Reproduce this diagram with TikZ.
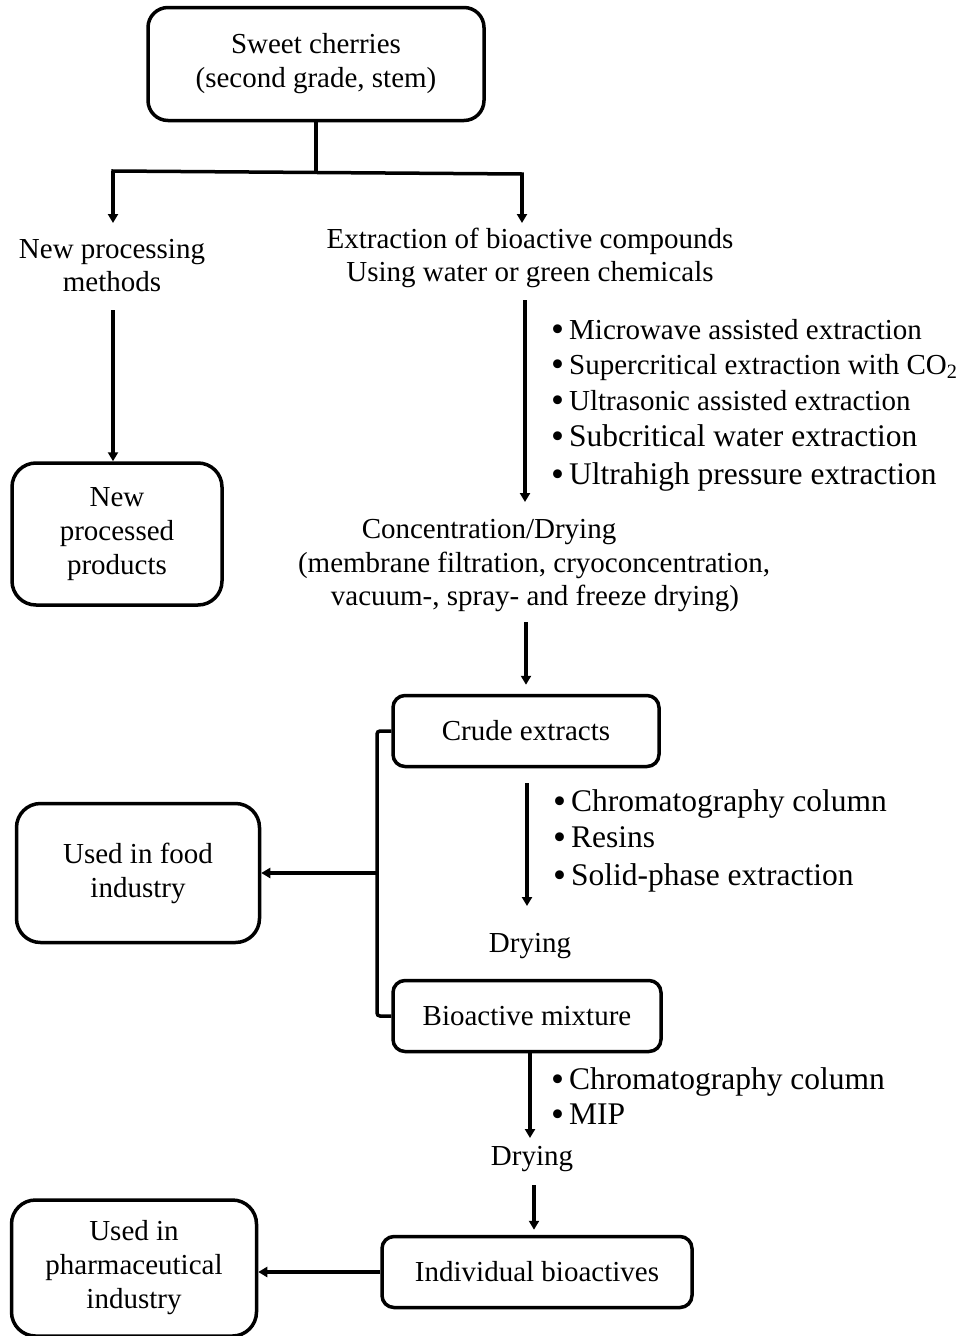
\documentclass[tikz,border=0pt]{standalone}
\usepackage{fontspec}
\setmainfont{Liberation Serif}
\usetikzlibrary{arrows.meta}
\newcommand{\bul}{\raisebox{-2.5pt}{\fontsize{37}{37}\selectfont •}\hspace{5pt}}
\begin{document}
\begin{tikzpicture}[x=1pt,y=-1pt,
  box/.style={draw, line width=3.5pt, rounded corners=#1, inner sep=0pt, align=center, font=\fontsize{29}{34}\selectfont},
  box/.default=16pt,
  txt/.style={align=center, font=\fontsize{29}{33}\selectfont, inner sep=0pt},
  bsm/.style={anchor=base west, inner sep=0pt, font=\fontsize{29}{33}\selectfont},
  bbig/.style={anchor=base west, inner sep=0pt, font=\fontsize{31.5}{36}\selectfont},
  arr/.style={line width=3.5pt, -{Triangle[length=9pt,width=10pt]}},
  ln/.style={line width=3.5pt}]
\useasboundingbox (0,0) rectangle (968,1336);

% boxes
\node[box=20pt, minimum width=336pt, minimum height=113pt] (sweet) at (316,64) {Sweet cherries\\(second grade, stem)};
\node[box=24pt, minimum width=210pt, minimum height=142pt] (npp) at (117,534) {New\\processed\\products};
\node[box=12pt, minimum width=266pt, minimum height=71pt] (crude) at (526,731) {Crude extracts};
\node[box=24pt, minimum width=243pt, minimum height=139pt] (food) at (138,873) {Used in food\\industry};
\node[box=12pt, minimum width=268pt, minimum height=71pt] (bio) at (527,1016) {Bioactive mixture};
\node[box=12pt, minimum width=310pt, minimum height=71pt] (indiv) at (537,1272) {Individual bioactives};
\node[box=24pt, minimum width=245pt, minimum height=136pt] (pharm) at (134,1268) {Used in\\pharmaceutical\\industry};

% plain texts
\node[txt] (newproc) at (112,266) {New processing\\methods};
\node[txt] (extr) at (530,258) {Extraction of bioactive compounds\\Using water or green chemicals};
\node[txt, anchor=base] (conc1) at (489,538) {Concentration/Drying};
\node[txt, anchor=base] (conc2) at (534,572) {(membrane filtration, cryoconcentration,};
\node[txt, anchor=base] (conc3) at (535,605) {vacuum-, spray- and freeze drying)};
\node[txt, anchor=base] (dry1) at (530,952) {Drying};
\node[txt, anchor=base] (dry2) at (532,1165) {Drying};

% bullet lists
\node[bsm] (a1) at (551,339) {\bul Microwave assisted extraction};
\node[bsm] (a2) at (551,374) {\bul Supercritical extraction with CO\textsubscript{2}};
\node[bsm] (a3) at (551,410) {\bul Ultrasonic assisted extraction};
\node[bbig] (a4) at (551,446) {\bul Subcritical water extraction};
\node[bbig] (a5) at (551,484) {\bul Ultrahigh pressure extraction};

\node[bbig] (c1) at (553,811) {\bul Chromatography column};
\node[bbig] (c2) at (553,847) {\bul Resins};
\node[bbig] (c3) at (553,885) {\bul Solid-phase extraction};

\node[bbig] (d1) at (551,1089) {\bul Chromatography column};
\node[bbig] (d2) at (551,1124) {\bul MIP};

% connectors
\coordinate (j0) at (316,173);
\coordinate (jl) at (113,171);
\coordinate (jr) at (522,174);
\draw[ln] (sweet.south) -- (j0);
\draw[ln, line cap=rect] (jl) -- (jr);
\draw[arr] (jl) -- (113,223);
\draw[arr] (jr) -- (522,223);

\coordinate (l1) at (113,310);
\draw[arr] (l1) -- (l1 |- npp.north);

\coordinate (r1) at (525,300);
\coordinate (r2) at (525,502);
\draw[arr] (r1) -- (r2);

\coordinate (r3) at (526,622);
\draw[arr] (r3) -- ([yshift=9pt]crude.north -| r3);

\coordinate (r4) at (527,783);
\coordinate (r5) at (527,906);
\draw[arr] (r4) -- (r5);

\coordinate (r6) at (530,1138);
\draw[arr] (bio.south -| r6) -- (r6);

\coordinate (r7) at (534,1185);
\draw[arr] (r7) -- ([yshift=5pt]indiv.north -| r7);

\coordinate (bt) at (377,731);
\coordinate (bb) at (377,1016);
\coordinate (bm) at (377,873);
\draw[ln, rounded corners=3pt] (crude.west) -- (bt) -- (bb) -- (bio.west);
\draw[arr] (bm) -- (bm -| food.east);

\draw[arr] (indiv.west) -- (indiv.west -| pharm.east);
\end{tikzpicture}
\end{document}
